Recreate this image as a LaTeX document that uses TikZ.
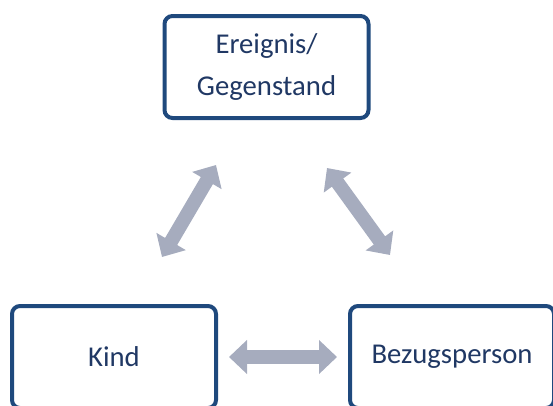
\documentclass[tikz,border=0pt]{standalone}
\usepackage{fontspec}
\setmainfont{Carlito}
\usetikzlibrary{arrows.meta}

\definecolor{boxblue}{HTML}{1F497D}
\definecolor{textblue}{HTML}{203864}
\definecolor{arrowgray}{HTML}{A6ACBE}

\tikzset{
    partner/.style={draw=boxblue, line width=4pt, rounded corners=8pt,
        minimum width=204pt, minimum height=102pt, align=center,
        text=textblue, font=\fontsize{28.7}{41.7}\selectfont},
    bigarrow/.style={draw=arrowgray, line width=14pt,
        {Triangle[length=18pt, width=33pt]}-{Triangle[length=18pt, width=33pt]}}
}

\begin{document}
\begin{tikzpicture}[x=1pt, y=-1pt]

    % Frame of the picture.
    \useasboundingbox (0, 0) rectangle (553, 405);

    % The three boxes.
    \node[partner] (ereignis) at (266.5, 67) {Ereignis/\\Gegenstand};
    \node[partner] (kind)     at (114, 357)  {Kind};
    \node[partner] (bezug)    at (452, 357)  {Bezugsperson};

    % End points of the slanted arrows.
    \coordinate (L1) at (162, 257);
    \coordinate (L2) at (216, 165);
    \coordinate (R1) at (327, 168);
    \coordinate (R2) at (390, 255);

    % Double arrows.
    \draw[bigarrow] (L1) -- (L2);
    \draw[bigarrow] (R1) -- (R2);
    \draw[bigarrow, shorten <=11pt, shorten >=11pt] (kind.east) -- (bezug.west);
\end{tikzpicture}
\end{document}
